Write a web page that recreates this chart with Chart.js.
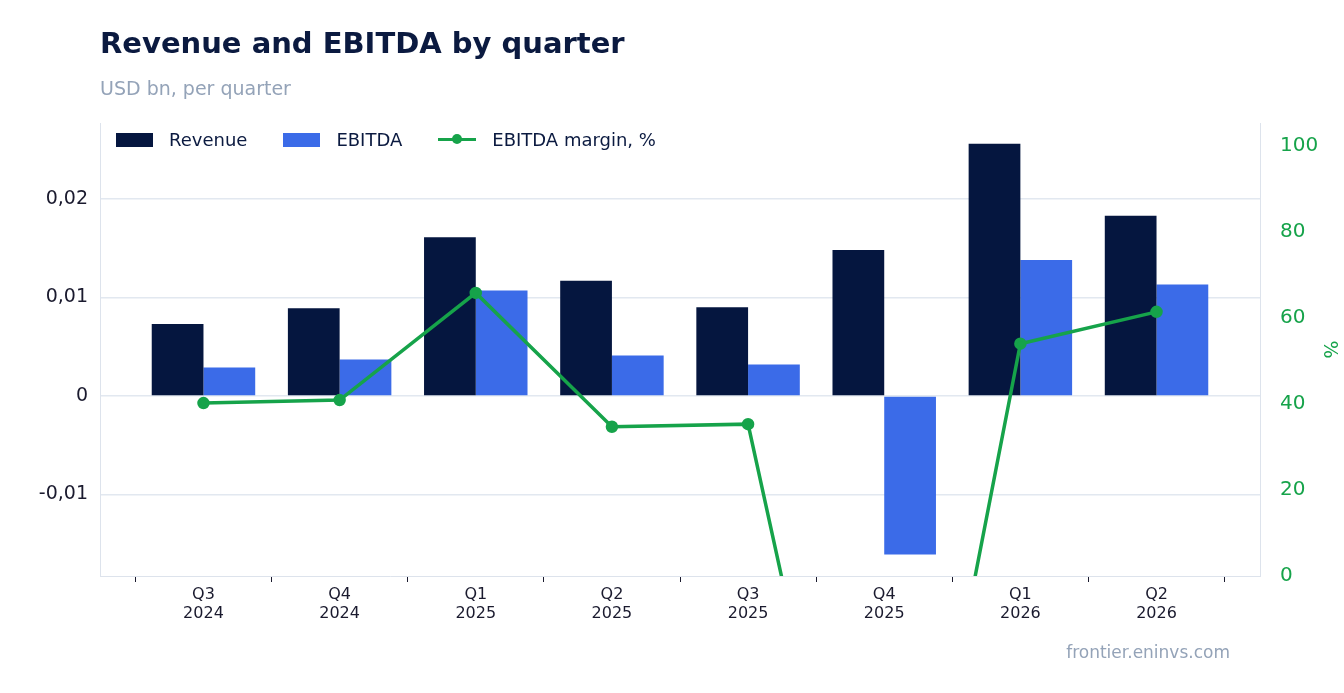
<!DOCTYPE html>
<html>
<head>
<meta charset="utf-8">
<script src="https://cdn.jsdelivr.net/npm/chart.js@4"></script>
<style>
  body { margin: 0; background: #fff; font-family: "DejaVu Sans", sans-serif; }
  #wrap { position: relative; width: 1344px; height: 693px; }
  canvas { position: absolute; left: 0; top: 0; }
  .t { position: absolute; left: 100px; top: 26px; font-size: 29px; font-weight: bold; color: #0b1a40; }
  .s { position: absolute; left: 100px; top: 77px; font-size: 19px; color: #94a3b8; }
  .f { position: absolute; right: 114px; top: 642px; font-size: 17px; color: #94a3b8; }
  .lg { position: absolute; left: 116px; top: 129px; font-size: 18px; color: #0b1a40; display: flex; gap: 36px; align-items: center; }
  .lg span { display: inline-flex; align-items: center; gap: 16px; }
  .box { width: 37px; height: 14px; display: inline-block; }
  .ln { width: 38px; height: 3px; background: #16a34a; position: relative; display: inline-block; }
  .ln::after { content: ""; position: absolute; left: 14px; top: -4px; width: 10px; height: 10px; border-radius: 50%; background: #16a34a; }
</style>
</head>
<body>
<div id="wrap">
  <canvas id="c" width="1344" height="693"></canvas>
  <div class="t">Revenue and EBITDA by quarter</div>
  <div class="s">USD bn, per quarter</div>
  <div class="lg">
    <span><i class="box" style="background:#05163f"></i>Revenue</span>
    <span><i class="box" style="background:#3b6be8"></i>EBITDA</span>
    <span><i class="ln"></i>EBITDA margin, %</span>
  </div>
  <div class="f">frontier.eninvs.com</div>
</div>
<script>
const quarters = [['Q3','2024'],['Q4','2024'],['Q1','2025'],['Q2','2025'],['Q3','2025'],['Q4','2025'],['Q1','2026'],['Q2','2026']];
const revenue = [0.0073, 0.0089, 0.0161, 0.0117, 0.0090, 0.0148, 0.0256, 0.0183];
const ebitda = [0.0029, 0.0037, 0.0107, 0.0041, 0.0032, -0.0161, 0.0138, 0.0113];
const margin = [40.2, 40.9, 65.8, 34.7, 35.3, -108.8, 54.0, 61.4];

const fmt = v => v === 0 ? '0' : v.toFixed(2).replace('.', ',');
const pts = arr => arr.map((v, i) => ({ x: i, y: v }));

new Chart(document.getElementById('c'), {
  data: {
    datasets: [
      { type: 'line', data: pts(margin), yAxisID: 'y1', borderColor: '#16a34a', backgroundColor: '#16a34a',
        borderWidth: 3.5, pointRadius: 4.5, tension: 0, order: 0 },
      { type: 'bar', data: pts(revenue), yAxisID: 'y', backgroundColor: '#05163f', order: 1 },
      { type: 'bar', data: pts(ebitda), yAxisID: 'y', backgroundColor: '#3b6be8', order: 1 }
    ]
  },
  options: {
    responsive: false,
    animation: false,
    layout: { padding: { top: 123, left: 0, right: 0, bottom: 0 } },
    datasets: { bar: { categoryPercentage: 0.76, barPercentage: 1 } },
    plugins: { legend: { display: false }, tooltip: { enabled: false } },
    scales: {
      x: {
        type: 'linear', min: -0.76, max: 7.76, offset: false,
        afterBuildTicks: s => { s.ticks = quarters.map((q, i) => ({ value: i })); },
        grid: { display: true, drawOnChartArea: false, tickLength: 6, color: '#1a1a2e' },
        border: { color: '#dde3ec' },
        ticks: { color: '#1a1a2e', font: { family: 'DejaVu Sans', size: 16 }, callback: v => quarters[v] },
        afterFit: s => { s.height = 117; }
      },
      y: {
        min: -0.01827, max: 0.0277,
        afterBuildTicks: s => { s.ticks = [-0.01, 0, 0.01, 0.02].map(v => ({ value: v })); },
        grid: { color: '#e2e8f0', lineWidth: 1.5, drawTicks: false },
        border: { color: '#dde3ec' },
        ticks: { color: '#1a1a2e', padding: 12, font: { family: 'DejaVu Sans', size: 19 }, callback: fmt },
        afterFit: s => { s.width = 100; }
      },
      y1: {
        position: 'right', min: 0, max: 105.3,
        afterBuildTicks: s => { s.ticks = [0, 20, 40, 60, 80, 100].map(v => ({ value: v })); },
        grid: { display: false },
        border: { color: '#dde3ec' },
        ticks: { color: '#16a34a', padding: 12, font: { family: 'DejaVu Sans', size: 20 } },
        title: { display: true, text: '%', color: '#16a34a', font: { family: 'DejaVu Sans', size: 19 } },
        afterFit: s => { s.width = 84; }
      }
    }
  }
});
</script>
</body>
</html>
